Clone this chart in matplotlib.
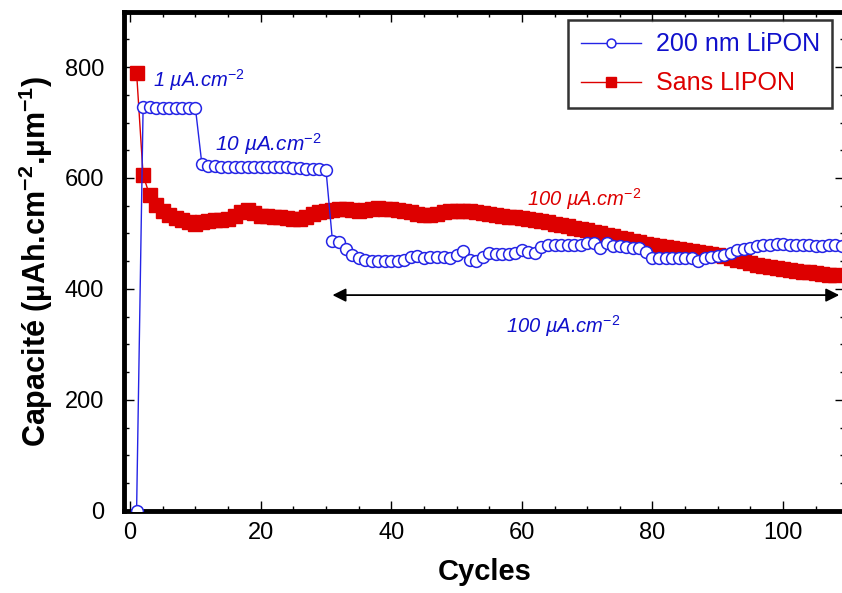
import matplotlib
matplotlib.use("Agg")
import matplotlib.pyplot as plt
from matplotlib.ticker import MultipleLocator

plt.rcParams['font.family'] = ['Liberation Sans', 'DejaVu Sans']
plt.rcParams['mathtext.fontset'] = 'custom'
plt.rcParams['mathtext.rm'] = 'Liberation Sans'
plt.rcParams['mathtext.it'] = 'Liberation Sans:italic'
plt.rcParams['mathtext.bf'] = 'Liberation Sans:bold'

# 200 nm LiPON (open circles), cycles 1..109
lipon_cap = [0,
             728, 728, 727, 727, 727, 726, 727, 727, 727,
             625, 622, 621, 620, 620, 620, 620, 620, 620, 620,
             619, 619, 619, 619, 618, 618, 617, 617, 616, 615,
             486, 484, 472, 462, 455, 452, 451, 451, 451, 451,
             451, 452, 457, 460, 456, 457, 458, 457, 456, 461,
             469, 453, 450, 458, 465, 463, 463, 463, 464, 470,
             466, 465, 476, 479, 479, 479, 479, 479, 480, 483,
             483, 473, 482, 478, 477, 475, 474, 474, 467, 456,
             455, 455, 455, 455, 455, 455, 450, 455, 458, 460,
             462, 465, 470, 472, 474, 477, 479, 480, 481, 481,
             480, 479, 479, 479, 478, 478, 479, 479, 478]
lipon_cycles = list(range(1, len(lipon_cap) + 1))

# Sans LIPON (filled squares), cycles 1..108
sans_cap = [790, 605, 569, 551, 540, 533, 528, 524, 520, 518,
            520, 523, 524, 525, 527, 532, 538, 542, 537, 532,
            531, 530, 529, 528, 527, 527, 530, 535, 539, 541,
            543, 544, 544, 542, 541, 543, 545, 546, 545, 544,
            542, 540, 538, 536, 534, 533, 536, 538, 540, 541,
            541, 540, 539, 537, 535, 533, 531, 530, 529, 528,
            526, 524, 522, 520, 518, 516, 513, 510, 508, 506,
            503, 500, 497, 495, 492, 490, 487, 484, 481, 479,
            477, 476, 474, 472, 470, 469, 467, 465, 463, 461,
            459, 456, 453, 450, 447, 444, 442, 440, 438, 436,
            434, 432, 431, 430, 429, 427, 426, 425]
sans_cycles = list(range(1, len(sans_cap) + 1))

blue = '#2424e6'
blue_txt = '#1010cc'
red = '#dd0000'

fig = plt.figure(figsize=(8.42, 5.93), dpi=100)
ax = fig.add_axes([0.1467, 0.1383, 0.857, 0.8423])

ax.plot(sans_cycles, sans_cap, color=red, lw=1, marker='s', ms=10,
        mfc=red, mec=red, label='Sans LIPON', zorder=2)
ax.plot(lipon_cycles, lipon_cap, color=blue, lw=1, marker='o', ms=8.5,
        mfc='white', mec=blue, mew=1.1, label='200 nm LiPON', zorder=3)

ax.set_xlim(-1, 109.5)
ax.set_ylim(0, 900)
ax.xaxis.set_major_locator(MultipleLocator(20))
ax.xaxis.set_minor_locator(MultipleLocator(5))
ax.yaxis.set_major_locator(MultipleLocator(200))
ax.yaxis.set_minor_locator(MultipleLocator(50))
ax.tick_params(which='both', direction='in', top=True, right=True,
               labelsize=17)
ax.tick_params(which='major', length=7, width=1)
ax.tick_params(which='minor', length=3.5, width=1)
ax.tick_params(axis='y', pad=14)
ax.tick_params(axis='x', pad=8)
for s in ax.spines.values():
    s.set_linewidth(3.5)

ax.set_xlabel('Cycles', fontsize=21, fontweight='bold', labelpad=10)
ax.set_ylabel(r'Capacité (µAh.cm$\mathbf{^{-2}}$.µm$\mathbf{^{-1}}$)',
              fontsize=22, fontweight='bold', labelpad=7)

ax.text(3.5, 777, r'1 µA.cm$^{\mathit{-2}}$', color=blue_txt, fontsize=14.5,
        style='italic', va='center')
ax.text(13, 661, r'10 µA.cm$^{\mathit{-2}}$', color=blue_txt, fontsize=15,
        style='italic', va='center')
ax.text(60.8, 562, r'100 µA.cm$^{\mathit{-2}}$', color=red, fontsize=14.5,
        style='italic', va='center')
ax.text(57.5, 333, r'100 µA.cm$^{\mathit{-2}}$', color=blue_txt, fontsize=14.5,
        style='italic', va='center')
ax.annotate('', xy=(31, 389), xytext=(108.6, 389),
            arrowprops=dict(arrowstyle='<|-|>', color='black', lw=1.3,
                            mutation_scale=20, shrinkA=0, shrinkB=0))

handles, labels = ax.get_legend_handles_labels()
leg = ax.legend(handles[::-1], labels[::-1], loc='upper right',
                bbox_to_anchor=(0.982, 0.983), borderaxespad=0,
                fontsize=18, handlelength=2.4, markerscale=0.75,
                frameon=True, fancybox=False, edgecolor='black',
                borderpad=0.5, labelspacing=0.6, handletextpad=0.6)
leg.get_frame().set_linewidth(1.8)
for txt, c in zip(leg.get_texts(), [blue_txt, red]):
    txt.set_color(c)

fig.savefig('out.png', dpi=100)
